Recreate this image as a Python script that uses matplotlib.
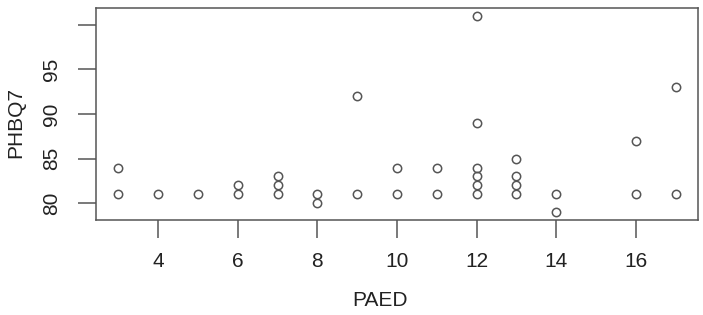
import matplotlib.pyplot as plt
import numpy as np

plt.rcParams['font.family'] = ['Liberation Sans', 'DejaVu Sans']

# Datos
paed = [3, 3, 4, 5, 6, 6, 7, 7, 7, 8, 8, 9, 9, 10, 10, 11, 11,
        12, 12, 12, 12, 12, 12, 13, 13, 13, 13, 14, 14, 16, 16, 17, 17]
phbq7 = [81, 84, 81, 81, 81, 82, 81, 82, 83, 80, 81, 81, 92, 81, 84, 81, 84,
         81, 82, 83, 84, 89, 101, 81, 82, 83, 85, 79, 81, 81, 87, 81, 93]
xticks = [4, 6, 8, 10, 12, 14, 16]
yticks = [80, 85, 90, 95, 100]
ylabels = ['80', '85', '90', '95', '']

gris = '#555555'
texto = '#222222'

fig = plt.figure(figsize=(7.03, 3.15), dpi=100)
ax = fig.add_axes([96 / 703, 1 - 220 / 315, (698 - 96) / 703, (220 - 8) / 315])

ax.plot(paed, phbq7, linestyle='none', marker='o', markersize=6,
        markerfacecolor='none', markeredgecolor=gris, markeredgewidth=1.1)

# rango con expansion del 4% como en R
xr = max(paed) - min(paed)
yr = max(phbq7) - min(phbq7)
ax.set_xlim(min(paed) - 0.04 * xr, max(paed) + 0.04 * xr)
ax.set_ylim(min(phbq7) - 0.04 * yr, max(phbq7) + 0.04 * yr)

ax.set_xticks(xticks)
ax.set_xticklabels([str(t) for t in xticks])
ax.set_yticks(yticks)
ax.set_yticklabels(ylabels)
ax.tick_params(axis='both', length=13, width=1.1, color=gris, labelsize=15,
               labelcolor=texto, pad=10)
ax.tick_params(axis='y', labelrotation=90, pad=12)
for lab in ax.get_yticklabels():
    lab.set_va('center')

for s in ax.spines.values():
    s.set_color(gris)
    s.set_linewidth(1.1)

fig.text(380 / 703, 1 - 300 / 315, 'PAED', ha='center', va='center',
         fontsize=15, color=texto)
fig.text(16 / 703, 1 - 122 / 315, 'PHBQ7', ha='center', va='center',
         rotation=90, fontsize=15, color=texto)

fig.savefig('out.png', dpi=100)
